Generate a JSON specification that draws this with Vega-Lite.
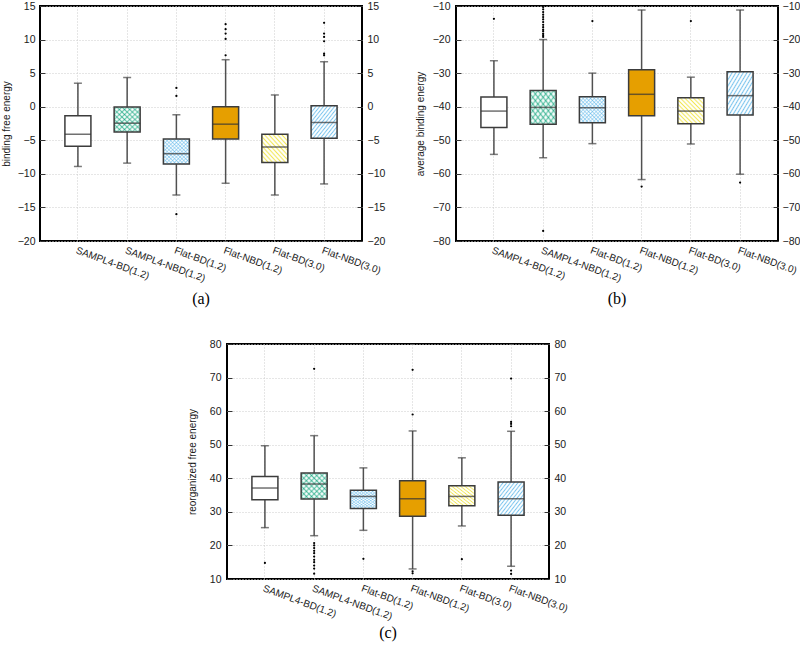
{
"$schema": "https://vega.github.io/schema/vega-lite/v6.json",
"padding": {"left": 0, "top": 0, "right": 0, "bottom": 0},
"background": "#ffffff",
"datasets": {
"a": [
{"cat": "SAMPL4-BD(1.2)", "lower": -8.9, "q1": -5.9, "median": -4.1, "q3": -1.35, "upper": 3.5},
{"cat": "SAMPL4-NBD(1.2)", "lower": -8.4, "q1": -3.75, "median": -2.45, "q3": -0.05, "upper": 4.35},
{"cat": "Flat-BD(1.2)", "lower": -13.15, "q1": -8.55, "median": -7.0, "q3": -4.8, "upper": -1.2},
{"cat": "Flat-NBD(1.2)", "lower": -11.4, "q1": -4.8, "median": -2.6, "q3": 0.0, "upper": 7.0},
{"cat": "Flat-BD(3.0)", "lower": -13.15, "q1": -8.3, "median": -6.0, "q3": -4.1, "upper": 1.75},
{"cat": "Flat-NBD(3.0)", "lower": -11.5, "q1": -4.7, "median": -2.35, "q3": 0.15, "upper": 6.7}
],
"aout": [
{"cat": "Flat-BD(1.2)", "v": 2.8}, {"cat": "Flat-BD(1.2)", "v": 1.6}, {"cat": "Flat-BD(1.2)", "v": -16.0},
{"cat": "Flat-NBD(1.2)", "v": 12.3}, {"cat": "Flat-NBD(1.2)", "v": 11.55}, {"cat": "Flat-NBD(1.2)", "v": 10.9}, {"cat": "Flat-NBD(1.2)", "v": 10.1}, {"cat": "Flat-NBD(1.2)", "v": 7.65},
{"cat": "Flat-NBD(3.0)", "v": 12.5}, {"cat": "Flat-NBD(3.0)", "v": 10.9}, {"cat": "Flat-NBD(3.0)", "v": 10.4}, {"cat": "Flat-NBD(3.0)", "v": 9.75}, {"cat": "Flat-NBD(3.0)", "v": 7.9}, {"cat": "Flat-NBD(3.0)", "v": 7.65}
],
"b": [
{"cat": "SAMPL4-BD(1.2)", "lower": -54.2, "q1": -46.2, "median": -41.3, "q3": -37.1, "upper": -26.3},
{"cat": "SAMPL4-NBD(1.2)", "lower": -55.2, "q1": -45.2, "median": -40.2, "q3": -35.2, "upper": -20.0},
{"cat": "Flat-BD(1.2)", "lower": -51.0, "q1": -44.8, "median": -40.3, "q3": -37.0, "upper": -30.0},
{"cat": "Flat-NBD(1.2)", "lower": -61.7, "q1": -42.7, "median": -36.3, "q3": -29.0, "upper": -11.2},
{"cat": "Flat-BD(3.0)", "lower": -51.1, "q1": -45.1, "median": -41.3, "q3": -37.3, "upper": -31.2},
{"cat": "Flat-NBD(3.0)", "lower": -60.1, "q1": -42.5, "median": -36.7, "q3": -29.6, "upper": -11.2}
],
"bout": [
{"cat": "SAMPL4-BD(1.2)", "v": -13.8},
{"cat": "SAMPL4-NBD(1.2)", "v": -10.3}, {"cat": "SAMPL4-NBD(1.2)", "v": -11.0}, {"cat": "SAMPL4-NBD(1.2)", "v": -11.8}, {"cat": "SAMPL4-NBD(1.2)", "v": -12.6}, {"cat": "SAMPL4-NBD(1.2)", "v": -13.3}, {"cat": "SAMPL4-NBD(1.2)", "v": -14.0}, {"cat": "SAMPL4-NBD(1.2)", "v": -14.8}, {"cat": "SAMPL4-NBD(1.2)", "v": -15.6}, {"cat": "SAMPL4-NBD(1.2)", "v": -16.3}, {"cat": "SAMPL4-NBD(1.2)", "v": -17.0}, {"cat": "SAMPL4-NBD(1.2)", "v": -17.5}, {"cat": "SAMPL4-NBD(1.2)", "v": -18.2}, {"cat": "SAMPL4-NBD(1.2)", "v": -18.7}, {"cat": "SAMPL4-NBD(1.2)", "v": -19.2}, {"cat": "SAMPL4-NBD(1.2)", "v": -77.0},
{"cat": "Flat-BD(1.2)", "v": -14.5},
{"cat": "Flat-NBD(1.2)", "v": -63.8},
{"cat": "Flat-BD(3.0)", "v": -14.5},
{"cat": "Flat-NBD(3.0)", "v": -62.6}
],
"c": [
{"cat": "SAMPL4-BD(1.2)", "lower": 25.3, "q1": 33.6, "median": 37.1, "q3": 40.5, "upper": 49.7},
{"cat": "SAMPL4-NBD(1.2)", "lower": 22.9, "q1": 33.8, "median": 38.3, "q3": 41.6, "upper": 52.7},
{"cat": "Flat-BD(1.2)", "lower": 24.5, "q1": 31.0, "median": 34.6, "q3": 36.4, "upper": 43.1},
{"cat": "Flat-NBD(1.2)", "lower": 13.0, "q1": 28.7, "median": 33.9, "q3": 39.3, "upper": 54.1},
{"cat": "Flat-BD(3.0)", "lower": 25.8, "q1": 31.8, "median": 34.6, "q3": 37.8, "upper": 46.1},
{"cat": "Flat-NBD(3.0)", "lower": 13.8, "q1": 29.0, "median": 33.9, "q3": 38.9, "upper": 54.0}
],
"cout": [
{"cat": "SAMPL4-BD(1.2)", "v": 14.8},
{"cat": "SAMPL4-NBD(1.2)", "v": 72.6}, {"cat": "SAMPL4-NBD(1.2)", "v": 20.7}, {"cat": "SAMPL4-NBD(1.2)", "v": 20.0}, {"cat": "SAMPL4-NBD(1.2)", "v": 19.2}, {"cat": "SAMPL4-NBD(1.2)", "v": 18.4}, {"cat": "SAMPL4-NBD(1.2)", "v": 17.7}, {"cat": "SAMPL4-NBD(1.2)", "v": 16.7}, {"cat": "SAMPL4-NBD(1.2)", "v": 15.7}, {"cat": "SAMPL4-NBD(1.2)", "v": 15.0}, {"cat": "SAMPL4-NBD(1.2)", "v": 14.0}, {"cat": "SAMPL4-NBD(1.2)", "v": 13.1}, {"cat": "SAMPL4-NBD(1.2)", "v": 11.6},
{"cat": "Flat-BD(1.2)", "v": 16.0},
{"cat": "Flat-NBD(1.2)", "v": 72.3}, {"cat": "Flat-NBD(1.2)", "v": 59.0}, {"cat": "Flat-NBD(1.2)", "v": 12.3}, {"cat": "Flat-NBD(1.2)", "v": 11.7},
{"cat": "Flat-BD(3.0)", "v": 15.9},
{"cat": "Flat-NBD(3.0)", "v": 69.7}, {"cat": "Flat-NBD(3.0)", "v": 56.8}, {"cat": "Flat-NBD(3.0)", "v": 56.2}, {"cat": "Flat-NBD(3.0)", "v": 55.5}, {"cat": "Flat-NBD(3.0)", "v": 12.5}, {"cat": "Flat-NBD(3.0)", "v": 11.5}
]
},
"config": {
"view": {"stroke": "#000000", "strokeWidth": 2},
"font": "Liberation Sans",
"axis": {"labelFont": "Liberation Sans", "titleFont": "Liberation Sans", "labelColor": "#1a1a1a", "titleColor": "#1a1a1a", "titleFontWeight": "normal", "titleFontSize": 10, "labelFontSize": 10.5, "domain": false, "tickColor": "#333333", "gridColor": "#cccccc", "gridDash": [1, 2], "gridWidth": 1}
},
"spacing": 29,
"vconcat": [
{"hconcat": [
{
"width": 322, "height": 235,
"title": {"text": "(a)", "orient": "bottom", "font": "Liberation Serif", "fontSize": 16, "fontWeight": "normal", "color": "#000000", "offset": 8, "frame": "group", "anchor": "middle"},
"resolve": {"axis": {"y": "independent"}},
"encoding": {"x": {"field": "cat", "type": "nominal", "scale": {"type": "band", "domain": ["SAMPL4-BD(1.2)", "SAMPL4-NBD(1.2)", "Flat-BD(1.2)", "Flat-NBD(1.2)", "Flat-BD(3.0)", "Flat-NBD(3.0)"], "paddingInner": 0, "paddingOuter": 0.27}, "axis": {"title": null, "labelAngle": 20, "labelAlign": "left", "labelBaseline": "top", "labelPadding": 4, "labelFontSize": 10, "ticks": false, "grid": true, "bandPosition": 0.5, "labelOverlap": false, "labelBound": false, "labelFlush": false}}},
"layer": [
{"data": {"name": "a"}, "mark": {"type": "rule", "color": "#505050", "strokeWidth": 1.5}, "encoding": {"y": {"field": "lower", "type": "quantitative", "scale": {"domain": [-20, 15]}, "axis": {"orient": "left", "title": "binding free energy", "values": [-20, -15, -10, -5, 0, 5, 10, 15], "grid": true, "tickSize": -5, "labelPadding": 10, "titlePadding": 6}}, "y2": {"field": "upper"}}},
{"data": {"name": "a"}, "mark": {"type": "bar", "size": 26, "strokeWidth": 0}, "encoding": {"y": {"field": "q1", "type": "quantitative", "scale": {"domain": [-20, 15]}, "axis": null}, "y2": {"field": "q3"}, "color": {"condition": {"test": "datum.cat === 'Flat-NBD(1.2)'", "value": "#e69f00"}, "value": "#ffffff"}}},
{"data": {"name": "a"}, "transform": [{"filter": "datum.cat === 'SAMPL4-NBD(1.2)'"}], "mark": {"type": "bar", "size": 26, "strokeWidth": 0, "fill": {"gradient": "linear", "x1": 0, "y1": 0, "x2": 1, "y2": 1, "stops": [{"offset": 0, "color": "rgba(255,255,255,0)"}, {"offset": 0.05, "color": "rgba(0,158,115,0.6)"}, {"offset": 0.1, "color": "rgba(255,255,255,0)"}, {"offset": 0.15, "color": "rgba(0,158,115,0.6)"}, {"offset": 0.2, "color": "rgba(255,255,255,0)"}, {"offset": 0.25, "color": "rgba(0,158,115,0.6)"}, {"offset": 0.3, "color": "rgba(255,255,255,0)"}, {"offset": 0.35, "color": "rgba(0,158,115,0.6)"}, {"offset": 0.4, "color": "rgba(255,255,255,0)"}, {"offset": 0.45, "color": "rgba(0,158,115,0.6)"}, {"offset": 0.5, "color": "rgba(255,255,255,0)"}, {"offset": 0.55, "color": "rgba(0,158,115,0.6)"}, {"offset": 0.6, "color": "rgba(255,255,255,0)"}, {"offset": 0.65, "color": "rgba(0,158,115,0.6)"}, {"offset": 0.7, "color": "rgba(255,255,255,0)"}, {"offset": 0.75, "color": "rgba(0,158,115,0.6)"}, {"offset": 0.8, "color": "rgba(255,255,255,0)"}, {"offset": 0.85, "color": "rgba(0,158,115,0.6)"}, {"offset": 0.9, "color": "rgba(255,255,255,0)"}, {"offset": 0.95, "color": "rgba(0,158,115,0.6)"}, {"offset": 1, "color": "rgba(255,255,255,0)"}]}}, "encoding": {"y": {"field": "q1", "type": "quantitative", "scale": {"domain": [-20, 15]}, "axis": null}, "y2": {"field": "q3"}}},
{"data": {"name": "a"}, "transform": [{"filter": "datum.cat === 'SAMPL4-NBD(1.2)'"}], "mark": {"type": "bar", "size": 26, "strokeWidth": 0, "fill": {"gradient": "linear", "x1": 0, "y1": 1, "x2": 1, "y2": 0, "stops": [{"offset": 0, "color": "rgba(255,255,255,0)"}, {"offset": 0.05, "color": "rgba(0,158,115,0.6)"}, {"offset": 0.1, "color": "rgba(255,255,255,0)"}, {"offset": 0.15, "color": "rgba(0,158,115,0.6)"}, {"offset": 0.2, "color": "rgba(255,255,255,0)"}, {"offset": 0.25, "color": "rgba(0,158,115,0.6)"}, {"offset": 0.3, "color": "rgba(255,255,255,0)"}, {"offset": 0.35, "color": "rgba(0,158,115,0.6)"}, {"offset": 0.4, "color": "rgba(255,255,255,0)"}, {"offset": 0.45, "color": "rgba(0,158,115,0.6)"}, {"offset": 0.5, "color": "rgba(255,255,255,0)"}, {"offset": 0.55, "color": "rgba(0,158,115,0.6)"}, {"offset": 0.6, "color": "rgba(255,255,255,0)"}, {"offset": 0.65, "color": "rgba(0,158,115,0.6)"}, {"offset": 0.7, "color": "rgba(255,255,255,0)"}, {"offset": 0.75, "color": "rgba(0,158,115,0.6)"}, {"offset": 0.8, "color": "rgba(255,255,255,0)"}, {"offset": 0.85, "color": "rgba(0,158,115,0.6)"}, {"offset": 0.9, "color": "rgba(255,255,255,0)"}, {"offset": 0.95, "color": "rgba(0,158,115,0.6)"}, {"offset": 1, "color": "rgba(255,255,255,0)"}]}}, "encoding": {"y": {"field": "q1", "type": "quantitative", "scale": {"domain": [-20, 15]}, "axis": null}, "y2": {"field": "q3"}}},
{"data": {"name": "a"}, "transform": [{"filter": "datum.cat === 'Flat-BD(1.2)'"}], "mark": {"type": "bar", "size": 26, "strokeWidth": 0, "fill": {"gradient": "linear", "x1": 0, "y1": 0, "x2": 1, "y2": 1, "stops": [{"offset": 0, "color": "rgba(255,255,255,0)"}, {"offset": 0.0357, "color": "rgba(86,180,233,0.6)"}, {"offset": 0.0714, "color": "rgba(255,255,255,0)"}, {"offset": 0.1071, "color": "rgba(86,180,233,0.6)"}, {"offset": 0.1429, "color": "rgba(255,255,255,0)"}, {"offset": 0.1786, "color": "rgba(86,180,233,0.6)"}, {"offset": 0.2143, "color": "rgba(255,255,255,0)"}, {"offset": 0.25, "color": "rgba(86,180,233,0.6)"}, {"offset": 0.2857, "color": "rgba(255,255,255,0)"}, {"offset": 0.3214, "color": "rgba(86,180,233,0.6)"}, {"offset": 0.3571, "color": "rgba(255,255,255,0)"}, {"offset": 0.3929, "color": "rgba(86,180,233,0.6)"}, {"offset": 0.4286, "color": "rgba(255,255,255,0)"}, {"offset": 0.4643, "color": "rgba(86,180,233,0.6)"}, {"offset": 0.5, "color": "rgba(255,255,255,0)"}, {"offset": 0.5357, "color": "rgba(86,180,233,0.6)"}, {"offset": 0.5714, "color": "rgba(255,255,255,0)"}, {"offset": 0.6071, "color": "rgba(86,180,233,0.6)"}, {"offset": 0.6429, "color": "rgba(255,255,255,0)"}, {"offset": 0.6786, "color": "rgba(86,180,233,0.6)"}, {"offset": 0.7143, "color": "rgba(255,255,255,0)"}, {"offset": 0.75, "color": "rgba(86,180,233,0.6)"}, {"offset": 0.7857, "color": "rgba(255,255,255,0)"}, {"offset": 0.8214, "color": "rgba(86,180,233,0.6)"}, {"offset": 0.8571, "color": "rgba(255,255,255,0)"}, {"offset": 0.8929, "color": "rgba(86,180,233,0.6)"}, {"offset": 0.9286, "color": "rgba(255,255,255,0)"}, {"offset": 0.9643, "color": "rgba(86,180,233,0.6)"}, {"offset": 1, "color": "rgba(255,255,255,0)"}]}}, "encoding": {"y": {"field": "q1", "type": "quantitative", "scale": {"domain": [-20, 15]}, "axis": null}, "y2": {"field": "q3"}}},
{"data": {"name": "a"}, "transform": [{"filter": "datum.cat === 'Flat-BD(1.2)'"}], "mark": {"type": "bar", "size": 26, "strokeWidth": 0, "fill": {"gradient": "linear", "x1": 0, "y1": 1, "x2": 1, "y2": 0, "stops": [{"offset": 0, "color": "rgba(255,255,255,0)"}, {"offset": 0.0357, "color": "rgba(86,180,233,0.6)"}, {"offset": 0.0714, "color": "rgba(255,255,255,0)"}, {"offset": 0.1071, "color": "rgba(86,180,233,0.6)"}, {"offset": 0.1429, "color": "rgba(255,255,255,0)"}, {"offset": 0.1786, "color": "rgba(86,180,233,0.6)"}, {"offset": 0.2143, "color": "rgba(255,255,255,0)"}, {"offset": 0.25, "color": "rgba(86,180,233,0.6)"}, {"offset": 0.2857, "color": "rgba(255,255,255,0)"}, {"offset": 0.3214, "color": "rgba(86,180,233,0.6)"}, {"offset": 0.3571, "color": "rgba(255,255,255,0)"}, {"offset": 0.3929, "color": "rgba(86,180,233,0.6)"}, {"offset": 0.4286, "color": "rgba(255,255,255,0)"}, {"offset": 0.4643, "color": "rgba(86,180,233,0.6)"}, {"offset": 0.5, "color": "rgba(255,255,255,0)"}, {"offset": 0.5357, "color": "rgba(86,180,233,0.6)"}, {"offset": 0.5714, "color": "rgba(255,255,255,0)"}, {"offset": 0.6071, "color": "rgba(86,180,233,0.6)"}, {"offset": 0.6429, "color": "rgba(255,255,255,0)"}, {"offset": 0.6786, "color": "rgba(86,180,233,0.6)"}, {"offset": 0.7143, "color": "rgba(255,255,255,0)"}, {"offset": 0.75, "color": "rgba(86,180,233,0.6)"}, {"offset": 0.7857, "color": "rgba(255,255,255,0)"}, {"offset": 0.8214, "color": "rgba(86,180,233,0.6)"}, {"offset": 0.8571, "color": "rgba(255,255,255,0)"}, {"offset": 0.8929, "color": "rgba(86,180,233,0.6)"}, {"offset": 0.9286, "color": "rgba(255,255,255,0)"}, {"offset": 0.9643, "color": "rgba(86,180,233,0.6)"}, {"offset": 1, "color": "rgba(255,255,255,0)"}]}}, "encoding": {"y": {"field": "q1", "type": "quantitative", "scale": {"domain": [-20, 15]}, "axis": null}, "y2": {"field": "q3"}}},
{"data": {"name": "a"}, "transform": [{"filter": "datum.cat === 'Flat-BD(3.0)'"}], "mark": {"type": "bar", "size": 26, "strokeWidth": 0, "fill": {"gradient": "linear", "x1": 0, "y1": 1, "x2": 1, "y2": 0, "stops": [{"offset": 0, "color": "rgba(255,255,255,0)"}, {"offset": 0.0417, "color": "rgba(240,228,66,0.9)"}, {"offset": 0.0833, "color": "rgba(255,255,255,0)"}, {"offset": 0.125, "color": "rgba(240,228,66,0.9)"}, {"offset": 0.1667, "color": "rgba(255,255,255,0)"}, {"offset": 0.2083, "color": "rgba(240,228,66,0.9)"}, {"offset": 0.25, "color": "rgba(255,255,255,0)"}, {"offset": 0.2917, "color": "rgba(240,228,66,0.9)"}, {"offset": 0.3333, "color": "rgba(255,255,255,0)"}, {"offset": 0.375, "color": "rgba(240,228,66,0.9)"}, {"offset": 0.4167, "color": "rgba(255,255,255,0)"}, {"offset": 0.4583, "color": "rgba(240,228,66,0.9)"}, {"offset": 0.5, "color": "rgba(255,255,255,0)"}, {"offset": 0.5417, "color": "rgba(240,228,66,0.9)"}, {"offset": 0.5833, "color": "rgba(255,255,255,0)"}, {"offset": 0.625, "color": "rgba(240,228,66,0.9)"}, {"offset": 0.6667, "color": "rgba(255,255,255,0)"}, {"offset": 0.7083, "color": "rgba(240,228,66,0.9)"}, {"offset": 0.75, "color": "rgba(255,255,255,0)"}, {"offset": 0.7917, "color": "rgba(240,228,66,0.9)"}, {"offset": 0.8333, "color": "rgba(255,255,255,0)"}, {"offset": 0.875, "color": "rgba(240,228,66,0.9)"}, {"offset": 0.9167, "color": "rgba(255,255,255,0)"}, {"offset": 0.9583, "color": "rgba(240,228,66,0.9)"}, {"offset": 1, "color": "rgba(255,255,255,0)"}]}}, "encoding": {"y": {"field": "q1", "type": "quantitative", "scale": {"domain": [-20, 15]}, "axis": null}, "y2": {"field": "q3"}}},
{"data": {"name": "a"}, "transform": [{"filter": "datum.cat === 'Flat-NBD(3.0)'"}], "mark": {"type": "bar", "size": 26, "strokeWidth": 0, "fill": {"gradient": "linear", "x1": 0, "y1": 0, "x2": 1, "y2": 1, "stops": [{"offset": 0, "color": "rgba(255,255,255,0)"}, {"offset": 0.0357, "color": "rgba(86,180,233,0.8)"}, {"offset": 0.0714, "color": "rgba(255,255,255,0)"}, {"offset": 0.1071, "color": "rgba(86,180,233,0.8)"}, {"offset": 0.1429, "color": "rgba(255,255,255,0)"}, {"offset": 0.1786, "color": "rgba(86,180,233,0.8)"}, {"offset": 0.2143, "color": "rgba(255,255,255,0)"}, {"offset": 0.25, "color": "rgba(86,180,233,0.8)"}, {"offset": 0.2857, "color": "rgba(255,255,255,0)"}, {"offset": 0.3214, "color": "rgba(86,180,233,0.8)"}, {"offset": 0.3571, "color": "rgba(255,255,255,0)"}, {"offset": 0.3929, "color": "rgba(86,180,233,0.8)"}, {"offset": 0.4286, "color": "rgba(255,255,255,0)"}, {"offset": 0.4643, "color": "rgba(86,180,233,0.8)"}, {"offset": 0.5, "color": "rgba(255,255,255,0)"}, {"offset": 0.5357, "color": "rgba(86,180,233,0.8)"}, {"offset": 0.5714, "color": "rgba(255,255,255,0)"}, {"offset": 0.6071, "color": "rgba(86,180,233,0.8)"}, {"offset": 0.6429, "color": "rgba(255,255,255,0)"}, {"offset": 0.6786, "color": "rgba(86,180,233,0.8)"}, {"offset": 0.7143, "color": "rgba(255,255,255,0)"}, {"offset": 0.75, "color": "rgba(86,180,233,0.8)"}, {"offset": 0.7857, "color": "rgba(255,255,255,0)"}, {"offset": 0.8214, "color": "rgba(86,180,233,0.8)"}, {"offset": 0.8571, "color": "rgba(255,255,255,0)"}, {"offset": 0.8929, "color": "rgba(86,180,233,0.8)"}, {"offset": 0.9286, "color": "rgba(255,255,255,0)"}, {"offset": 0.9643, "color": "rgba(86,180,233,0.8)"}, {"offset": 1, "color": "rgba(255,255,255,0)"}]}}, "encoding": {"y": {"field": "q1", "type": "quantitative", "scale": {"domain": [-20, 15]}, "axis": null}, "y2": {"field": "q3"}}},
{"data": {"name": "a"}, "mark": {"type": "bar", "size": 26, "fillOpacity": 0, "stroke": "#3c3c3c", "strokeWidth": 1.5}, "encoding": {"y": {"field": "q1", "type": "quantitative", "scale": {"domain": [-20, 15]}, "axis": null}, "y2": {"field": "q3"}}},
{"data": {"name": "a"}, "mark": {"type": "tick", "size": 26, "thickness": 1.5, "color": "#333333"}, "encoding": {"y": {"field": "median", "type": "quantitative", "scale": {"domain": [-20, 15]}, "axis": {"orient": "right", "title": null, "values": [-20, -15, -10, -5, 0, 5, 10, 15], "grid": false, "tickSize": -5, "labelPadding": 10}}}},
{"data": {"name": "a"}, "mark": {"type": "tick", "size": 8, "thickness": 1.5, "color": "#444444"}, "encoding": {"y": {"field": "lower", "type": "quantitative", "scale": {"domain": [-20, 15]}, "axis": null}}},
{"data": {"name": "a"}, "mark": {"type": "tick", "size": 8, "thickness": 1.5, "color": "#444444"}, "encoding": {"y": {"field": "upper", "type": "quantitative", "scale": {"domain": [-20, 15]}, "axis": null}}},
{"data": {"name": "aout"}, "mark": {"type": "circle", "size": 5, "color": "#000000", "opacity": 1}, "encoding": {"y": {"field": "v", "type": "quantitative", "scale": {"domain": [-20, 15]}, "axis": null}}}
]
},
{
"width": 322, "height": 235,
"title": {"text": "(b)", "orient": "bottom", "font": "Liberation Serif", "fontSize": 16, "fontWeight": "normal", "color": "#000000", "offset": 8, "frame": "group", "anchor": "middle"},
"resolve": {"axis": {"y": "independent"}},
"encoding": {"x": {"field": "cat", "type": "nominal", "scale": {"type": "band", "domain": ["SAMPL4-BD(1.2)", "SAMPL4-NBD(1.2)", "Flat-BD(1.2)", "Flat-NBD(1.2)", "Flat-BD(3.0)", "Flat-NBD(3.0)"], "paddingInner": 0, "paddingOuter": 0.27}, "axis": {"title": null, "labelAngle": 20, "labelAlign": "left", "labelBaseline": "top", "labelPadding": 4, "labelFontSize": 10, "ticks": false, "grid": true, "bandPosition": 0.5, "labelOverlap": false, "labelBound": false, "labelFlush": false}}},
"layer": [
{"data": {"name": "b"}, "mark": {"type": "rule", "color": "#505050", "strokeWidth": 1.5}, "encoding": {"y": {"field": "lower", "type": "quantitative", "scale": {"domain": [-80, -10]}, "axis": {"orient": "left", "title": "average binding energy", "values": [-80, -70, -60, -50, -40, -30, -20, -10], "grid": true, "tickSize": -5, "labelPadding": 11, "titlePadding": 7}}, "y2": {"field": "upper"}}},
{"data": {"name": "b"}, "mark": {"type": "bar", "size": 26, "strokeWidth": 0}, "encoding": {"y": {"field": "q1", "type": "quantitative", "scale": {"domain": [-80, -10]}, "axis": null}, "y2": {"field": "q3"}, "color": {"condition": {"test": "datum.cat === 'Flat-NBD(1.2)'", "value": "#e69f00"}, "value": "#ffffff"}}},
{"data": {"name": "b"}, "transform": [{"filter": "datum.cat === 'SAMPL4-NBD(1.2)'"}], "mark": {"type": "bar", "size": 26, "strokeWidth": 0, "fill": {"gradient": "linear", "x1": 0, "y1": 0, "x2": 1, "y2": 1, "stops": [{"offset": 0, "color": "rgba(255,255,255,0)"}, {"offset": 0.05, "color": "rgba(0,158,115,0.6)"}, {"offset": 0.1, "color": "rgba(255,255,255,0)"}, {"offset": 0.15, "color": "rgba(0,158,115,0.6)"}, {"offset": 0.2, "color": "rgba(255,255,255,0)"}, {"offset": 0.25, "color": "rgba(0,158,115,0.6)"}, {"offset": 0.3, "color": "rgba(255,255,255,0)"}, {"offset": 0.35, "color": "rgba(0,158,115,0.6)"}, {"offset": 0.4, "color": "rgba(255,255,255,0)"}, {"offset": 0.45, "color": "rgba(0,158,115,0.6)"}, {"offset": 0.5, "color": "rgba(255,255,255,0)"}, {"offset": 0.55, "color": "rgba(0,158,115,0.6)"}, {"offset": 0.6, "color": "rgba(255,255,255,0)"}, {"offset": 0.65, "color": "rgba(0,158,115,0.6)"}, {"offset": 0.7, "color": "rgba(255,255,255,0)"}, {"offset": 0.75, "color": "rgba(0,158,115,0.6)"}, {"offset": 0.8, "color": "rgba(255,255,255,0)"}, {"offset": 0.85, "color": "rgba(0,158,115,0.6)"}, {"offset": 0.9, "color": "rgba(255,255,255,0)"}, {"offset": 0.95, "color": "rgba(0,158,115,0.6)"}, {"offset": 1, "color": "rgba(255,255,255,0)"}]}}, "encoding": {"y": {"field": "q1", "type": "quantitative", "scale": {"domain": [-80, -10]}, "axis": null}, "y2": {"field": "q3"}}},
{"data": {"name": "b"}, "transform": [{"filter": "datum.cat === 'SAMPL4-NBD(1.2)'"}], "mark": {"type": "bar", "size": 26, "strokeWidth": 0, "fill": {"gradient": "linear", "x1": 0, "y1": 1, "x2": 1, "y2": 0, "stops": [{"offset": 0, "color": "rgba(255,255,255,0)"}, {"offset": 0.05, "color": "rgba(0,158,115,0.6)"}, {"offset": 0.1, "color": "rgba(255,255,255,0)"}, {"offset": 0.15, "color": "rgba(0,158,115,0.6)"}, {"offset": 0.2, "color": "rgba(255,255,255,0)"}, {"offset": 0.25, "color": "rgba(0,158,115,0.6)"}, {"offset": 0.3, "color": "rgba(255,255,255,0)"}, {"offset": 0.35, "color": "rgba(0,158,115,0.6)"}, {"offset": 0.4, "color": "rgba(255,255,255,0)"}, {"offset": 0.45, "color": "rgba(0,158,115,0.6)"}, {"offset": 0.5, "color": "rgba(255,255,255,0)"}, {"offset": 0.55, "color": "rgba(0,158,115,0.6)"}, {"offset": 0.6, "color": "rgba(255,255,255,0)"}, {"offset": 0.65, "color": "rgba(0,158,115,0.6)"}, {"offset": 0.7, "color": "rgba(255,255,255,0)"}, {"offset": 0.75, "color": "rgba(0,158,115,0.6)"}, {"offset": 0.8, "color": "rgba(255,255,255,0)"}, {"offset": 0.85, "color": "rgba(0,158,115,0.6)"}, {"offset": 0.9, "color": "rgba(255,255,255,0)"}, {"offset": 0.95, "color": "rgba(0,158,115,0.6)"}, {"offset": 1, "color": "rgba(255,255,255,0)"}]}}, "encoding": {"y": {"field": "q1", "type": "quantitative", "scale": {"domain": [-80, -10]}, "axis": null}, "y2": {"field": "q3"}}},
{"data": {"name": "b"}, "transform": [{"filter": "datum.cat === 'Flat-BD(1.2)'"}], "mark": {"type": "bar", "size": 26, "strokeWidth": 0, "fill": {"gradient": "linear", "x1": 0, "y1": 0, "x2": 1, "y2": 1, "stops": [{"offset": 0, "color": "rgba(255,255,255,0)"}, {"offset": 0.0357, "color": "rgba(86,180,233,0.6)"}, {"offset": 0.0714, "color": "rgba(255,255,255,0)"}, {"offset": 0.1071, "color": "rgba(86,180,233,0.6)"}, {"offset": 0.1429, "color": "rgba(255,255,255,0)"}, {"offset": 0.1786, "color": "rgba(86,180,233,0.6)"}, {"offset": 0.2143, "color": "rgba(255,255,255,0)"}, {"offset": 0.25, "color": "rgba(86,180,233,0.6)"}, {"offset": 0.2857, "color": "rgba(255,255,255,0)"}, {"offset": 0.3214, "color": "rgba(86,180,233,0.6)"}, {"offset": 0.3571, "color": "rgba(255,255,255,0)"}, {"offset": 0.3929, "color": "rgba(86,180,233,0.6)"}, {"offset": 0.4286, "color": "rgba(255,255,255,0)"}, {"offset": 0.4643, "color": "rgba(86,180,233,0.6)"}, {"offset": 0.5, "color": "rgba(255,255,255,0)"}, {"offset": 0.5357, "color": "rgba(86,180,233,0.6)"}, {"offset": 0.5714, "color": "rgba(255,255,255,0)"}, {"offset": 0.6071, "color": "rgba(86,180,233,0.6)"}, {"offset": 0.6429, "color": "rgba(255,255,255,0)"}, {"offset": 0.6786, "color": "rgba(86,180,233,0.6)"}, {"offset": 0.7143, "color": "rgba(255,255,255,0)"}, {"offset": 0.75, "color": "rgba(86,180,233,0.6)"}, {"offset": 0.7857, "color": "rgba(255,255,255,0)"}, {"offset": 0.8214, "color": "rgba(86,180,233,0.6)"}, {"offset": 0.8571, "color": "rgba(255,255,255,0)"}, {"offset": 0.8929, "color": "rgba(86,180,233,0.6)"}, {"offset": 0.9286, "color": "rgba(255,255,255,0)"}, {"offset": 0.9643, "color": "rgba(86,180,233,0.6)"}, {"offset": 1, "color": "rgba(255,255,255,0)"}]}}, "encoding": {"y": {"field": "q1", "type": "quantitative", "scale": {"domain": [-80, -10]}, "axis": null}, "y2": {"field": "q3"}}},
{"data": {"name": "b"}, "transform": [{"filter": "datum.cat === 'Flat-BD(1.2)'"}], "mark": {"type": "bar", "size": 26, "strokeWidth": 0, "fill": {"gradient": "linear", "x1": 0, "y1": 1, "x2": 1, "y2": 0, "stops": [{"offset": 0, "color": "rgba(255,255,255,0)"}, {"offset": 0.0357, "color": "rgba(86,180,233,0.6)"}, {"offset": 0.0714, "color": "rgba(255,255,255,0)"}, {"offset": 0.1071, "color": "rgba(86,180,233,0.6)"}, {"offset": 0.1429, "color": "rgba(255,255,255,0)"}, {"offset": 0.1786, "color": "rgba(86,180,233,0.6)"}, {"offset": 0.2143, "color": "rgba(255,255,255,0)"}, {"offset": 0.25, "color": "rgba(86,180,233,0.6)"}, {"offset": 0.2857, "color": "rgba(255,255,255,0)"}, {"offset": 0.3214, "color": "rgba(86,180,233,0.6)"}, {"offset": 0.3571, "color": "rgba(255,255,255,0)"}, {"offset": 0.3929, "color": "rgba(86,180,233,0.6)"}, {"offset": 0.4286, "color": "rgba(255,255,255,0)"}, {"offset": 0.4643, "color": "rgba(86,180,233,0.6)"}, {"offset": 0.5, "color": "rgba(255,255,255,0)"}, {"offset": 0.5357, "color": "rgba(86,180,233,0.6)"}, {"offset": 0.5714, "color": "rgba(255,255,255,0)"}, {"offset": 0.6071, "color": "rgba(86,180,233,0.6)"}, {"offset": 0.6429, "color": "rgba(255,255,255,0)"}, {"offset": 0.6786, "color": "rgba(86,180,233,0.6)"}, {"offset": 0.7143, "color": "rgba(255,255,255,0)"}, {"offset": 0.75, "color": "rgba(86,180,233,0.6)"}, {"offset": 0.7857, "color": "rgba(255,255,255,0)"}, {"offset": 0.8214, "color": "rgba(86,180,233,0.6)"}, {"offset": 0.8571, "color": "rgba(255,255,255,0)"}, {"offset": 0.8929, "color": "rgba(86,180,233,0.6)"}, {"offset": 0.9286, "color": "rgba(255,255,255,0)"}, {"offset": 0.9643, "color": "rgba(86,180,233,0.6)"}, {"offset": 1, "color": "rgba(255,255,255,0)"}]}}, "encoding": {"y": {"field": "q1", "type": "quantitative", "scale": {"domain": [-80, -10]}, "axis": null}, "y2": {"field": "q3"}}},
{"data": {"name": "b"}, "transform": [{"filter": "datum.cat === 'Flat-BD(3.0)'"}], "mark": {"type": "bar", "size": 26, "strokeWidth": 0, "fill": {"gradient": "linear", "x1": 0, "y1": 1, "x2": 1, "y2": 0, "stops": [{"offset": 0, "color": "rgba(255,255,255,0)"}, {"offset": 0.0417, "color": "rgba(240,228,66,0.9)"}, {"offset": 0.0833, "color": "rgba(255,255,255,0)"}, {"offset": 0.125, "color": "rgba(240,228,66,0.9)"}, {"offset": 0.1667, "color": "rgba(255,255,255,0)"}, {"offset": 0.2083, "color": "rgba(240,228,66,0.9)"}, {"offset": 0.25, "color": "rgba(255,255,255,0)"}, {"offset": 0.2917, "color": "rgba(240,228,66,0.9)"}, {"offset": 0.3333, "color": "rgba(255,255,255,0)"}, {"offset": 0.375, "color": "rgba(240,228,66,0.9)"}, {"offset": 0.4167, "color": "rgba(255,255,255,0)"}, {"offset": 0.4583, "color": "rgba(240,228,66,0.9)"}, {"offset": 0.5, "color": "rgba(255,255,255,0)"}, {"offset": 0.5417, "color": "rgba(240,228,66,0.9)"}, {"offset": 0.5833, "color": "rgba(255,255,255,0)"}, {"offset": 0.625, "color": "rgba(240,228,66,0.9)"}, {"offset": 0.6667, "color": "rgba(255,255,255,0)"}, {"offset": 0.7083, "color": "rgba(240,228,66,0.9)"}, {"offset": 0.75, "color": "rgba(255,255,255,0)"}, {"offset": 0.7917, "color": "rgba(240,228,66,0.9)"}, {"offset": 0.8333, "color": "rgba(255,255,255,0)"}, {"offset": 0.875, "color": "rgba(240,228,66,0.9)"}, {"offset": 0.9167, "color": "rgba(255,255,255,0)"}, {"offset": 0.9583, "color": "rgba(240,228,66,0.9)"}, {"offset": 1, "color": "rgba(255,255,255,0)"}]}}, "encoding": {"y": {"field": "q1", "type": "quantitative", "scale": {"domain": [-80, -10]}, "axis": null}, "y2": {"field": "q3"}}},
{"data": {"name": "b"}, "transform": [{"filter": "datum.cat === 'Flat-NBD(3.0)'"}], "mark": {"type": "bar", "size": 26, "strokeWidth": 0, "fill": {"gradient": "linear", "x1": 0, "y1": 0, "x2": 1, "y2": 1, "stops": [{"offset": 0, "color": "rgba(255,255,255,0)"}, {"offset": 0.0357, "color": "rgba(86,180,233,0.8)"}, {"offset": 0.0714, "color": "rgba(255,255,255,0)"}, {"offset": 0.1071, "color": "rgba(86,180,233,0.8)"}, {"offset": 0.1429, "color": "rgba(255,255,255,0)"}, {"offset": 0.1786, "color": "rgba(86,180,233,0.8)"}, {"offset": 0.2143, "color": "rgba(255,255,255,0)"}, {"offset": 0.25, "color": "rgba(86,180,233,0.8)"}, {"offset": 0.2857, "color": "rgba(255,255,255,0)"}, {"offset": 0.3214, "color": "rgba(86,180,233,0.8)"}, {"offset": 0.3571, "color": "rgba(255,255,255,0)"}, {"offset": 0.3929, "color": "rgba(86,180,233,0.8)"}, {"offset": 0.4286, "color": "rgba(255,255,255,0)"}, {"offset": 0.4643, "color": "rgba(86,180,233,0.8)"}, {"offset": 0.5, "color": "rgba(255,255,255,0)"}, {"offset": 0.5357, "color": "rgba(86,180,233,0.8)"}, {"offset": 0.5714, "color": "rgba(255,255,255,0)"}, {"offset": 0.6071, "color": "rgba(86,180,233,0.8)"}, {"offset": 0.6429, "color": "rgba(255,255,255,0)"}, {"offset": 0.6786, "color": "rgba(86,180,233,0.8)"}, {"offset": 0.7143, "color": "rgba(255,255,255,0)"}, {"offset": 0.75, "color": "rgba(86,180,233,0.8)"}, {"offset": 0.7857, "color": "rgba(255,255,255,0)"}, {"offset": 0.8214, "color": "rgba(86,180,233,0.8)"}, {"offset": 0.8571, "color": "rgba(255,255,255,0)"}, {"offset": 0.8929, "color": "rgba(86,180,233,0.8)"}, {"offset": 0.9286, "color": "rgba(255,255,255,0)"}, {"offset": 0.9643, "color": "rgba(86,180,233,0.8)"}, {"offset": 1, "color": "rgba(255,255,255,0)"}]}}, "encoding": {"y": {"field": "q1", "type": "quantitative", "scale": {"domain": [-80, -10]}, "axis": null}, "y2": {"field": "q3"}}},
{"data": {"name": "b"}, "mark": {"type": "bar", "size": 26, "fillOpacity": 0, "stroke": "#3c3c3c", "strokeWidth": 1.5}, "encoding": {"y": {"field": "q1", "type": "quantitative", "scale": {"domain": [-80, -10]}, "axis": null}, "y2": {"field": "q3"}}},
{"data": {"name": "b"}, "mark": {"type": "tick", "size": 26, "thickness": 1.5, "color": "#333333"}, "encoding": {"y": {"field": "median", "type": "quantitative", "scale": {"domain": [-80, -10]}, "axis": {"orient": "right", "title": null, "values": [-80, -70, -60, -50, -40, -30, -20, -10], "grid": false, "tickSize": -5, "labelPadding": 9}}}},
{"data": {"name": "b"}, "mark": {"type": "tick", "size": 8, "thickness": 1.5, "color": "#444444"}, "encoding": {"y": {"field": "lower", "type": "quantitative", "scale": {"domain": [-80, -10]}, "axis": null}}},
{"data": {"name": "b"}, "mark": {"type": "tick", "size": 8, "thickness": 1.5, "color": "#444444"}, "encoding": {"y": {"field": "upper", "type": "quantitative", "scale": {"domain": [-80, -10]}, "axis": null}}},
{"data": {"name": "bout"}, "mark": {"type": "circle", "size": 5, "color": "#000000", "opacity": 1}, "encoding": {"y": {"field": "v", "type": "quantitative", "scale": {"domain": [-80, -10]}, "axis": null}}}
]
}
], "spacing": 28},
{"hconcat": [
{"width": 137, "height": 235, "data": {"values": []}, "mark": "point", "view": {"stroke": null}},
{
"width": 322, "height": 235,
"title": {"text": "(c)", "orient": "bottom", "font": "Liberation Serif", "fontSize": 16, "fontWeight": "normal", "color": "#000000", "offset": 4, "frame": "group", "anchor": "middle"},
"resolve": {"axis": {"y": "independent"}},
"encoding": {"x": {"field": "cat", "type": "nominal", "scale": {"type": "band", "domain": ["SAMPL4-BD(1.2)", "SAMPL4-NBD(1.2)", "Flat-BD(1.2)", "Flat-NBD(1.2)", "Flat-BD(3.0)", "Flat-NBD(3.0)"], "paddingInner": 0, "paddingOuter": 0.27}, "axis": {"title": null, "labelAngle": 20, "labelAlign": "left", "labelBaseline": "top", "labelPadding": 4, "labelFontSize": 10, "ticks": false, "grid": true, "bandPosition": 0.5, "labelOverlap": false, "labelBound": false, "labelFlush": false}}},
"layer": [
{"data": {"name": "c"}, "mark": {"type": "rule", "color": "#505050", "strokeWidth": 1.5}, "encoding": {"y": {"field": "lower", "type": "quantitative", "scale": {"domain": [10, 80]}, "axis": {"orient": "left", "title": "reorganized free energy", "values": [10, 20, 30, 40, 50, 60, 70, 80], "grid": true, "tickSize": -5, "labelPadding": 11, "titlePadding": 12}}, "y2": {"field": "upper"}}},
{"data": {"name": "c"}, "mark": {"type": "bar", "size": 26, "strokeWidth": 0}, "encoding": {"y": {"field": "q1", "type": "quantitative", "scale": {"domain": [10, 80]}, "axis": null}, "y2": {"field": "q3"}, "color": {"condition": {"test": "datum.cat === 'Flat-NBD(1.2)'", "value": "#e69f00"}, "value": "#ffffff"}}},
{"data": {"name": "c"}, "transform": [{"filter": "datum.cat === 'SAMPL4-NBD(1.2)'"}], "mark": {"type": "bar", "size": 26, "strokeWidth": 0, "fill": {"gradient": "linear", "x1": 0, "y1": 0, "x2": 1, "y2": 1, "stops": [{"offset": 0, "color": "rgba(255,255,255,0)"}, {"offset": 0.05, "color": "rgba(0,158,115,0.6)"}, {"offset": 0.1, "color": "rgba(255,255,255,0)"}, {"offset": 0.15, "color": "rgba(0,158,115,0.6)"}, {"offset": 0.2, "color": "rgba(255,255,255,0)"}, {"offset": 0.25, "color": "rgba(0,158,115,0.6)"}, {"offset": 0.3, "color": "rgba(255,255,255,0)"}, {"offset": 0.35, "color": "rgba(0,158,115,0.6)"}, {"offset": 0.4, "color": "rgba(255,255,255,0)"}, {"offset": 0.45, "color": "rgba(0,158,115,0.6)"}, {"offset": 0.5, "color": "rgba(255,255,255,0)"}, {"offset": 0.55, "color": "rgba(0,158,115,0.6)"}, {"offset": 0.6, "color": "rgba(255,255,255,0)"}, {"offset": 0.65, "color": "rgba(0,158,115,0.6)"}, {"offset": 0.7, "color": "rgba(255,255,255,0)"}, {"offset": 0.75, "color": "rgba(0,158,115,0.6)"}, {"offset": 0.8, "color": "rgba(255,255,255,0)"}, {"offset": 0.85, "color": "rgba(0,158,115,0.6)"}, {"offset": 0.9, "color": "rgba(255,255,255,0)"}, {"offset": 0.95, "color": "rgba(0,158,115,0.6)"}, {"offset": 1, "color": "rgba(255,255,255,0)"}]}}, "encoding": {"y": {"field": "q1", "type": "quantitative", "scale": {"domain": [10, 80]}, "axis": null}, "y2": {"field": "q3"}}},
{"data": {"name": "c"}, "transform": [{"filter": "datum.cat === 'SAMPL4-NBD(1.2)'"}], "mark": {"type": "bar", "size": 26, "strokeWidth": 0, "fill": {"gradient": "linear", "x1": 0, "y1": 1, "x2": 1, "y2": 0, "stops": [{"offset": 0, "color": "rgba(255,255,255,0)"}, {"offset": 0.05, "color": "rgba(0,158,115,0.6)"}, {"offset": 0.1, "color": "rgba(255,255,255,0)"}, {"offset": 0.15, "color": "rgba(0,158,115,0.6)"}, {"offset": 0.2, "color": "rgba(255,255,255,0)"}, {"offset": 0.25, "color": "rgba(0,158,115,0.6)"}, {"offset": 0.3, "color": "rgba(255,255,255,0)"}, {"offset": 0.35, "color": "rgba(0,158,115,0.6)"}, {"offset": 0.4, "color": "rgba(255,255,255,0)"}, {"offset": 0.45, "color": "rgba(0,158,115,0.6)"}, {"offset": 0.5, "color": "rgba(255,255,255,0)"}, {"offset": 0.55, "color": "rgba(0,158,115,0.6)"}, {"offset": 0.6, "color": "rgba(255,255,255,0)"}, {"offset": 0.65, "color": "rgba(0,158,115,0.6)"}, {"offset": 0.7, "color": "rgba(255,255,255,0)"}, {"offset": 0.75, "color": "rgba(0,158,115,0.6)"}, {"offset": 0.8, "color": "rgba(255,255,255,0)"}, {"offset": 0.85, "color": "rgba(0,158,115,0.6)"}, {"offset": 0.9, "color": "rgba(255,255,255,0)"}, {"offset": 0.95, "color": "rgba(0,158,115,0.6)"}, {"offset": 1, "color": "rgba(255,255,255,0)"}]}}, "encoding": {"y": {"field": "q1", "type": "quantitative", "scale": {"domain": [10, 80]}, "axis": null}, "y2": {"field": "q3"}}},
{"data": {"name": "c"}, "transform": [{"filter": "datum.cat === 'Flat-BD(1.2)'"}], "mark": {"type": "bar", "size": 26, "strokeWidth": 0, "fill": {"gradient": "linear", "x1": 0, "y1": 0, "x2": 1, "y2": 1, "stops": [{"offset": 0, "color": "rgba(255,255,255,0)"}, {"offset": 0.0357, "color": "rgba(86,180,233,0.6)"}, {"offset": 0.0714, "color": "rgba(255,255,255,0)"}, {"offset": 0.1071, "color": "rgba(86,180,233,0.6)"}, {"offset": 0.1429, "color": "rgba(255,255,255,0)"}, {"offset": 0.1786, "color": "rgba(86,180,233,0.6)"}, {"offset": 0.2143, "color": "rgba(255,255,255,0)"}, {"offset": 0.25, "color": "rgba(86,180,233,0.6)"}, {"offset": 0.2857, "color": "rgba(255,255,255,0)"}, {"offset": 0.3214, "color": "rgba(86,180,233,0.6)"}, {"offset": 0.3571, "color": "rgba(255,255,255,0)"}, {"offset": 0.3929, "color": "rgba(86,180,233,0.6)"}, {"offset": 0.4286, "color": "rgba(255,255,255,0)"}, {"offset": 0.4643, "color": "rgba(86,180,233,0.6)"}, {"offset": 0.5, "color": "rgba(255,255,255,0)"}, {"offset": 0.5357, "color": "rgba(86,180,233,0.6)"}, {"offset": 0.5714, "color": "rgba(255,255,255,0)"}, {"offset": 0.6071, "color": "rgba(86,180,233,0.6)"}, {"offset": 0.6429, "color": "rgba(255,255,255,0)"}, {"offset": 0.6786, "color": "rgba(86,180,233,0.6)"}, {"offset": 0.7143, "color": "rgba(255,255,255,0)"}, {"offset": 0.75, "color": "rgba(86,180,233,0.6)"}, {"offset": 0.7857, "color": "rgba(255,255,255,0)"}, {"offset": 0.8214, "color": "rgba(86,180,233,0.6)"}, {"offset": 0.8571, "color": "rgba(255,255,255,0)"}, {"offset": 0.8929, "color": "rgba(86,180,233,0.6)"}, {"offset": 0.9286, "color": "rgba(255,255,255,0)"}, {"offset": 0.9643, "color": "rgba(86,180,233,0.6)"}, {"offset": 1, "color": "rgba(255,255,255,0)"}]}}, "encoding": {"y": {"field": "q1", "type": "quantitative", "scale": {"domain": [10, 80]}, "axis": null}, "y2": {"field": "q3"}}},
{"data": {"name": "c"}, "transform": [{"filter": "datum.cat === 'Flat-BD(1.2)'"}], "mark": {"type": "bar", "size": 26, "strokeWidth": 0, "fill": {"gradient": "linear", "x1": 0, "y1": 1, "x2": 1, "y2": 0, "stops": [{"offset": 0, "color": "rgba(255,255,255,0)"}, {"offset": 0.0357, "color": "rgba(86,180,233,0.6)"}, {"offset": 0.0714, "color": "rgba(255,255,255,0)"}, {"offset": 0.1071, "color": "rgba(86,180,233,0.6)"}, {"offset": 0.1429, "color": "rgba(255,255,255,0)"}, {"offset": 0.1786, "color": "rgba(86,180,233,0.6)"}, {"offset": 0.2143, "color": "rgba(255,255,255,0)"}, {"offset": 0.25, "color": "rgba(86,180,233,0.6)"}, {"offset": 0.2857, "color": "rgba(255,255,255,0)"}, {"offset": 0.3214, "color": "rgba(86,180,233,0.6)"}, {"offset": 0.3571, "color": "rgba(255,255,255,0)"}, {"offset": 0.3929, "color": "rgba(86,180,233,0.6)"}, {"offset": 0.4286, "color": "rgba(255,255,255,0)"}, {"offset": 0.4643, "color": "rgba(86,180,233,0.6)"}, {"offset": 0.5, "color": "rgba(255,255,255,0)"}, {"offset": 0.5357, "color": "rgba(86,180,233,0.6)"}, {"offset": 0.5714, "color": "rgba(255,255,255,0)"}, {"offset": 0.6071, "color": "rgba(86,180,233,0.6)"}, {"offset": 0.6429, "color": "rgba(255,255,255,0)"}, {"offset": 0.6786, "color": "rgba(86,180,233,0.6)"}, {"offset": 0.7143, "color": "rgba(255,255,255,0)"}, {"offset": 0.75, "color": "rgba(86,180,233,0.6)"}, {"offset": 0.7857, "color": "rgba(255,255,255,0)"}, {"offset": 0.8214, "color": "rgba(86,180,233,0.6)"}, {"offset": 0.8571, "color": "rgba(255,255,255,0)"}, {"offset": 0.8929, "color": "rgba(86,180,233,0.6)"}, {"offset": 0.9286, "color": "rgba(255,255,255,0)"}, {"offset": 0.9643, "color": "rgba(86,180,233,0.6)"}, {"offset": 1, "color": "rgba(255,255,255,0)"}]}}, "encoding": {"y": {"field": "q1", "type": "quantitative", "scale": {"domain": [10, 80]}, "axis": null}, "y2": {"field": "q3"}}},
{"data": {"name": "c"}, "transform": [{"filter": "datum.cat === 'Flat-BD(3.0)'"}], "mark": {"type": "bar", "size": 26, "strokeWidth": 0, "fill": {"gradient": "linear", "x1": 0, "y1": 1, "x2": 1, "y2": 0, "stops": [{"offset": 0, "color": "rgba(255,255,255,0)"}, {"offset": 0.0417, "color": "rgba(240,228,66,0.9)"}, {"offset": 0.0833, "color": "rgba(255,255,255,0)"}, {"offset": 0.125, "color": "rgba(240,228,66,0.9)"}, {"offset": 0.1667, "color": "rgba(255,255,255,0)"}, {"offset": 0.2083, "color": "rgba(240,228,66,0.9)"}, {"offset": 0.25, "color": "rgba(255,255,255,0)"}, {"offset": 0.2917, "color": "rgba(240,228,66,0.9)"}, {"offset": 0.3333, "color": "rgba(255,255,255,0)"}, {"offset": 0.375, "color": "rgba(240,228,66,0.9)"}, {"offset": 0.4167, "color": "rgba(255,255,255,0)"}, {"offset": 0.4583, "color": "rgba(240,228,66,0.9)"}, {"offset": 0.5, "color": "rgba(255,255,255,0)"}, {"offset": 0.5417, "color": "rgba(240,228,66,0.9)"}, {"offset": 0.5833, "color": "rgba(255,255,255,0)"}, {"offset": 0.625, "color": "rgba(240,228,66,0.9)"}, {"offset": 0.6667, "color": "rgba(255,255,255,0)"}, {"offset": 0.7083, "color": "rgba(240,228,66,0.9)"}, {"offset": 0.75, "color": "rgba(255,255,255,0)"}, {"offset": 0.7917, "color": "rgba(240,228,66,0.9)"}, {"offset": 0.8333, "color": "rgba(255,255,255,0)"}, {"offset": 0.875, "color": "rgba(240,228,66,0.9)"}, {"offset": 0.9167, "color": "rgba(255,255,255,0)"}, {"offset": 0.9583, "color": "rgba(240,228,66,0.9)"}, {"offset": 1, "color": "rgba(255,255,255,0)"}]}}, "encoding": {"y": {"field": "q1", "type": "quantitative", "scale": {"domain": [10, 80]}, "axis": null}, "y2": {"field": "q3"}}},
{"data": {"name": "c"}, "transform": [{"filter": "datum.cat === 'Flat-NBD(3.0)'"}], "mark": {"type": "bar", "size": 26, "strokeWidth": 0, "fill": {"gradient": "linear", "x1": 0, "y1": 0, "x2": 1, "y2": 1, "stops": [{"offset": 0, "color": "rgba(255,255,255,0)"}, {"offset": 0.0357, "color": "rgba(86,180,233,0.8)"}, {"offset": 0.0714, "color": "rgba(255,255,255,0)"}, {"offset": 0.1071, "color": "rgba(86,180,233,0.8)"}, {"offset": 0.1429, "color": "rgba(255,255,255,0)"}, {"offset": 0.1786, "color": "rgba(86,180,233,0.8)"}, {"offset": 0.2143, "color": "rgba(255,255,255,0)"}, {"offset": 0.25, "color": "rgba(86,180,233,0.8)"}, {"offset": 0.2857, "color": "rgba(255,255,255,0)"}, {"offset": 0.3214, "color": "rgba(86,180,233,0.8)"}, {"offset": 0.3571, "color": "rgba(255,255,255,0)"}, {"offset": 0.3929, "color": "rgba(86,180,233,0.8)"}, {"offset": 0.4286, "color": "rgba(255,255,255,0)"}, {"offset": 0.4643, "color": "rgba(86,180,233,0.8)"}, {"offset": 0.5, "color": "rgba(255,255,255,0)"}, {"offset": 0.5357, "color": "rgba(86,180,233,0.8)"}, {"offset": 0.5714, "color": "rgba(255,255,255,0)"}, {"offset": 0.6071, "color": "rgba(86,180,233,0.8)"}, {"offset": 0.6429, "color": "rgba(255,255,255,0)"}, {"offset": 0.6786, "color": "rgba(86,180,233,0.8)"}, {"offset": 0.7143, "color": "rgba(255,255,255,0)"}, {"offset": 0.75, "color": "rgba(86,180,233,0.8)"}, {"offset": 0.7857, "color": "rgba(255,255,255,0)"}, {"offset": 0.8214, "color": "rgba(86,180,233,0.8)"}, {"offset": 0.8571, "color": "rgba(255,255,255,0)"}, {"offset": 0.8929, "color": "rgba(86,180,233,0.8)"}, {"offset": 0.9286, "color": "rgba(255,255,255,0)"}, {"offset": 0.9643, "color": "rgba(86,180,233,0.8)"}, {"offset": 1, "color": "rgba(255,255,255,0)"}]}}, "encoding": {"y": {"field": "q1", "type": "quantitative", "scale": {"domain": [10, 80]}, "axis": null}, "y2": {"field": "q3"}}},
{"data": {"name": "c"}, "mark": {"type": "bar", "size": 26, "fillOpacity": 0, "stroke": "#3c3c3c", "strokeWidth": 1.5}, "encoding": {"y": {"field": "q1", "type": "quantitative", "scale": {"domain": [10, 80]}, "axis": null}, "y2": {"field": "q3"}}},
{"data": {"name": "c"}, "mark": {"type": "tick", "size": 26, "thickness": 1.5, "color": "#333333"}, "encoding": {"y": {"field": "median", "type": "quantitative", "scale": {"domain": [10, 80]}, "axis": {"orient": "right", "title": null, "values": [10, 20, 30, 40, 50, 60, 70, 80], "grid": false, "tickSize": -5, "labelPadding": 10}}}},
{"data": {"name": "c"}, "mark": {"type": "tick", "size": 8, "thickness": 1.5, "color": "#444444"}, "encoding": {"y": {"field": "lower", "type": "quantitative", "scale": {"domain": [10, 80]}, "axis": null}}},
{"data": {"name": "c"}, "mark": {"type": "tick", "size": 8, "thickness": 1.5, "color": "#444444"}, "encoding": {"y": {"field": "upper", "type": "quantitative", "scale": {"domain": [10, 80]}, "axis": null}}},
{"data": {"name": "cout"}, "mark": {"type": "circle", "size": 5, "color": "#000000", "opacity": 1}, "encoding": {"y": {"field": "v", "type": "quantitative", "scale": {"domain": [10, 80]}, "axis": null}}}
]
}
], "spacing": 9}
]
}
